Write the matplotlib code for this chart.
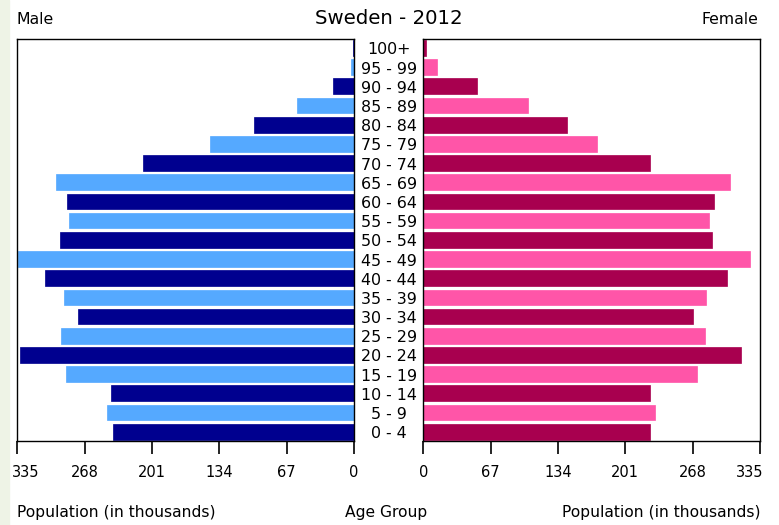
import matplotlib
matplotlib.use("Agg")
import matplotlib.pyplot as plt
from matplotlib.patches import Rectangle
import matplotlib.transforms as mtransforms

age_groups = ["0 - 4", "5 - 9", "10 - 14", "15 - 19", "20 - 24", "25 - 29", "30 - 34",
              "35 - 39", "40 - 44", "45 - 49", "50 - 54", "55 - 59", "60 - 64", "65 - 69",
              "70 - 74", "75 - 79", "80 - 84", "85 - 89", "90 - 94", "95 - 99", "100+"]
male = [239.5, 245.5, 242, 287, 332, 292, 275, 289, 307, 334, 293, 284, 286, 296.5,
        210, 143, 99, 57, 20.6, 3, 1]
female = [225.5, 231, 226, 272, 316, 280, 268, 281, 302, 325, 287.5, 284, 289, 305,
          226, 173, 142.7, 104, 53.7, 14, 2.4]
ticks = [0, 67, 134, 201, 268, 335]

male_colors = ["#00008f", "#55a9ff"]
female_colors = ["#a8004f", "#ff55a8"]

W, H = 779, 525
fig = plt.figure(figsize=(W / 100, H / 100), dpi=100)
fig.patch.set_facecolor("white")
fig.patches.append(Rectangle((0, 0), 9 / W, 1, transform=fig.transFigure,
                             color="#eef3e6", zorder=0))

bottom = 1 - 441.3 / H
height = (441.3 - 39.3) / H
axL = fig.add_axes([17.3 / W, bottom, (354 - 17.3) / W, height])
axR = fig.add_axes([423.3 / W, bottom, (760 - 423.3) / W, height])

y = list(range(len(age_groups)))
mc = [male_colors[i % 2] for i in y]
fc = [female_colors[i % 2] for i in y]
axL.barh(y, male, height=0.82, color=mc, edgecolor=mc, linewidth=0.5)
axR.barh(y, female, height=0.82, color=fc, edgecolor=fc, linewidth=0.5)

for ax in (axL, axR):
    ax.set_ylim(-0.5, 20.45)
    ax.set_yticks([])
    ax.set_xticks(ticks)
    ax.set_xticklabels([str(t) for t in ticks], fontsize=10.5)
    ax.tick_params(axis="x", direction="out", length=9, width=1.2, pad=8)
    for s in ax.spines.values():
        s.set_linewidth(1.0)
        s.set_color("black")
axL.set_xlim(335, 0)
axR.set_xlim(0, 335)

# shift the outermost "335" labels inward like the reference
for ax, dx in ((axL, 8), (axR, -10)):
    for lab, t in zip(ax.get_xticklabels(), ticks):
        if t == 335:
            lab.set_transform(lab.get_transform() +
                              mtransforms.ScaledTranslation(dx / 100, 0, fig.dpi_scale_trans))

trans = mtransforms.blended_transform_factory(fig.transFigure, axL.transData)
shift = mtransforms.ScaledTranslation(0, -2 / 100, fig.dpi_scale_trans)
for i, lab in enumerate(age_groups):
    fig.text(389 / W, i, lab, transform=trans + shift, ha="center", va="center", fontsize=11.4)

fig.text(389 / W, 1 - 18 / H, "Sweden - 2012", ha="center", va="center", fontsize=14.2)
fig.text(17 / W, 1 - 20 / H, "Male", ha="left", va="center", fontsize=11.3)
fig.text(758 / W, 1 - 20 / H, "Female", ha="right", va="center", fontsize=11.3)
fig.text(17 / W, 1 - 512 / H, "Population (in thousands)", ha="left", va="center", fontsize=11.2)
fig.text(386 / W, 1 - 512 / H, "Age Group", ha="center", va="center", fontsize=11.2)
fig.text(760 / W, 1 - 512 / H, "Population (in thousands)", ha="right", va="center", fontsize=11.2)

fig.savefig("out.png", dpi=100)
